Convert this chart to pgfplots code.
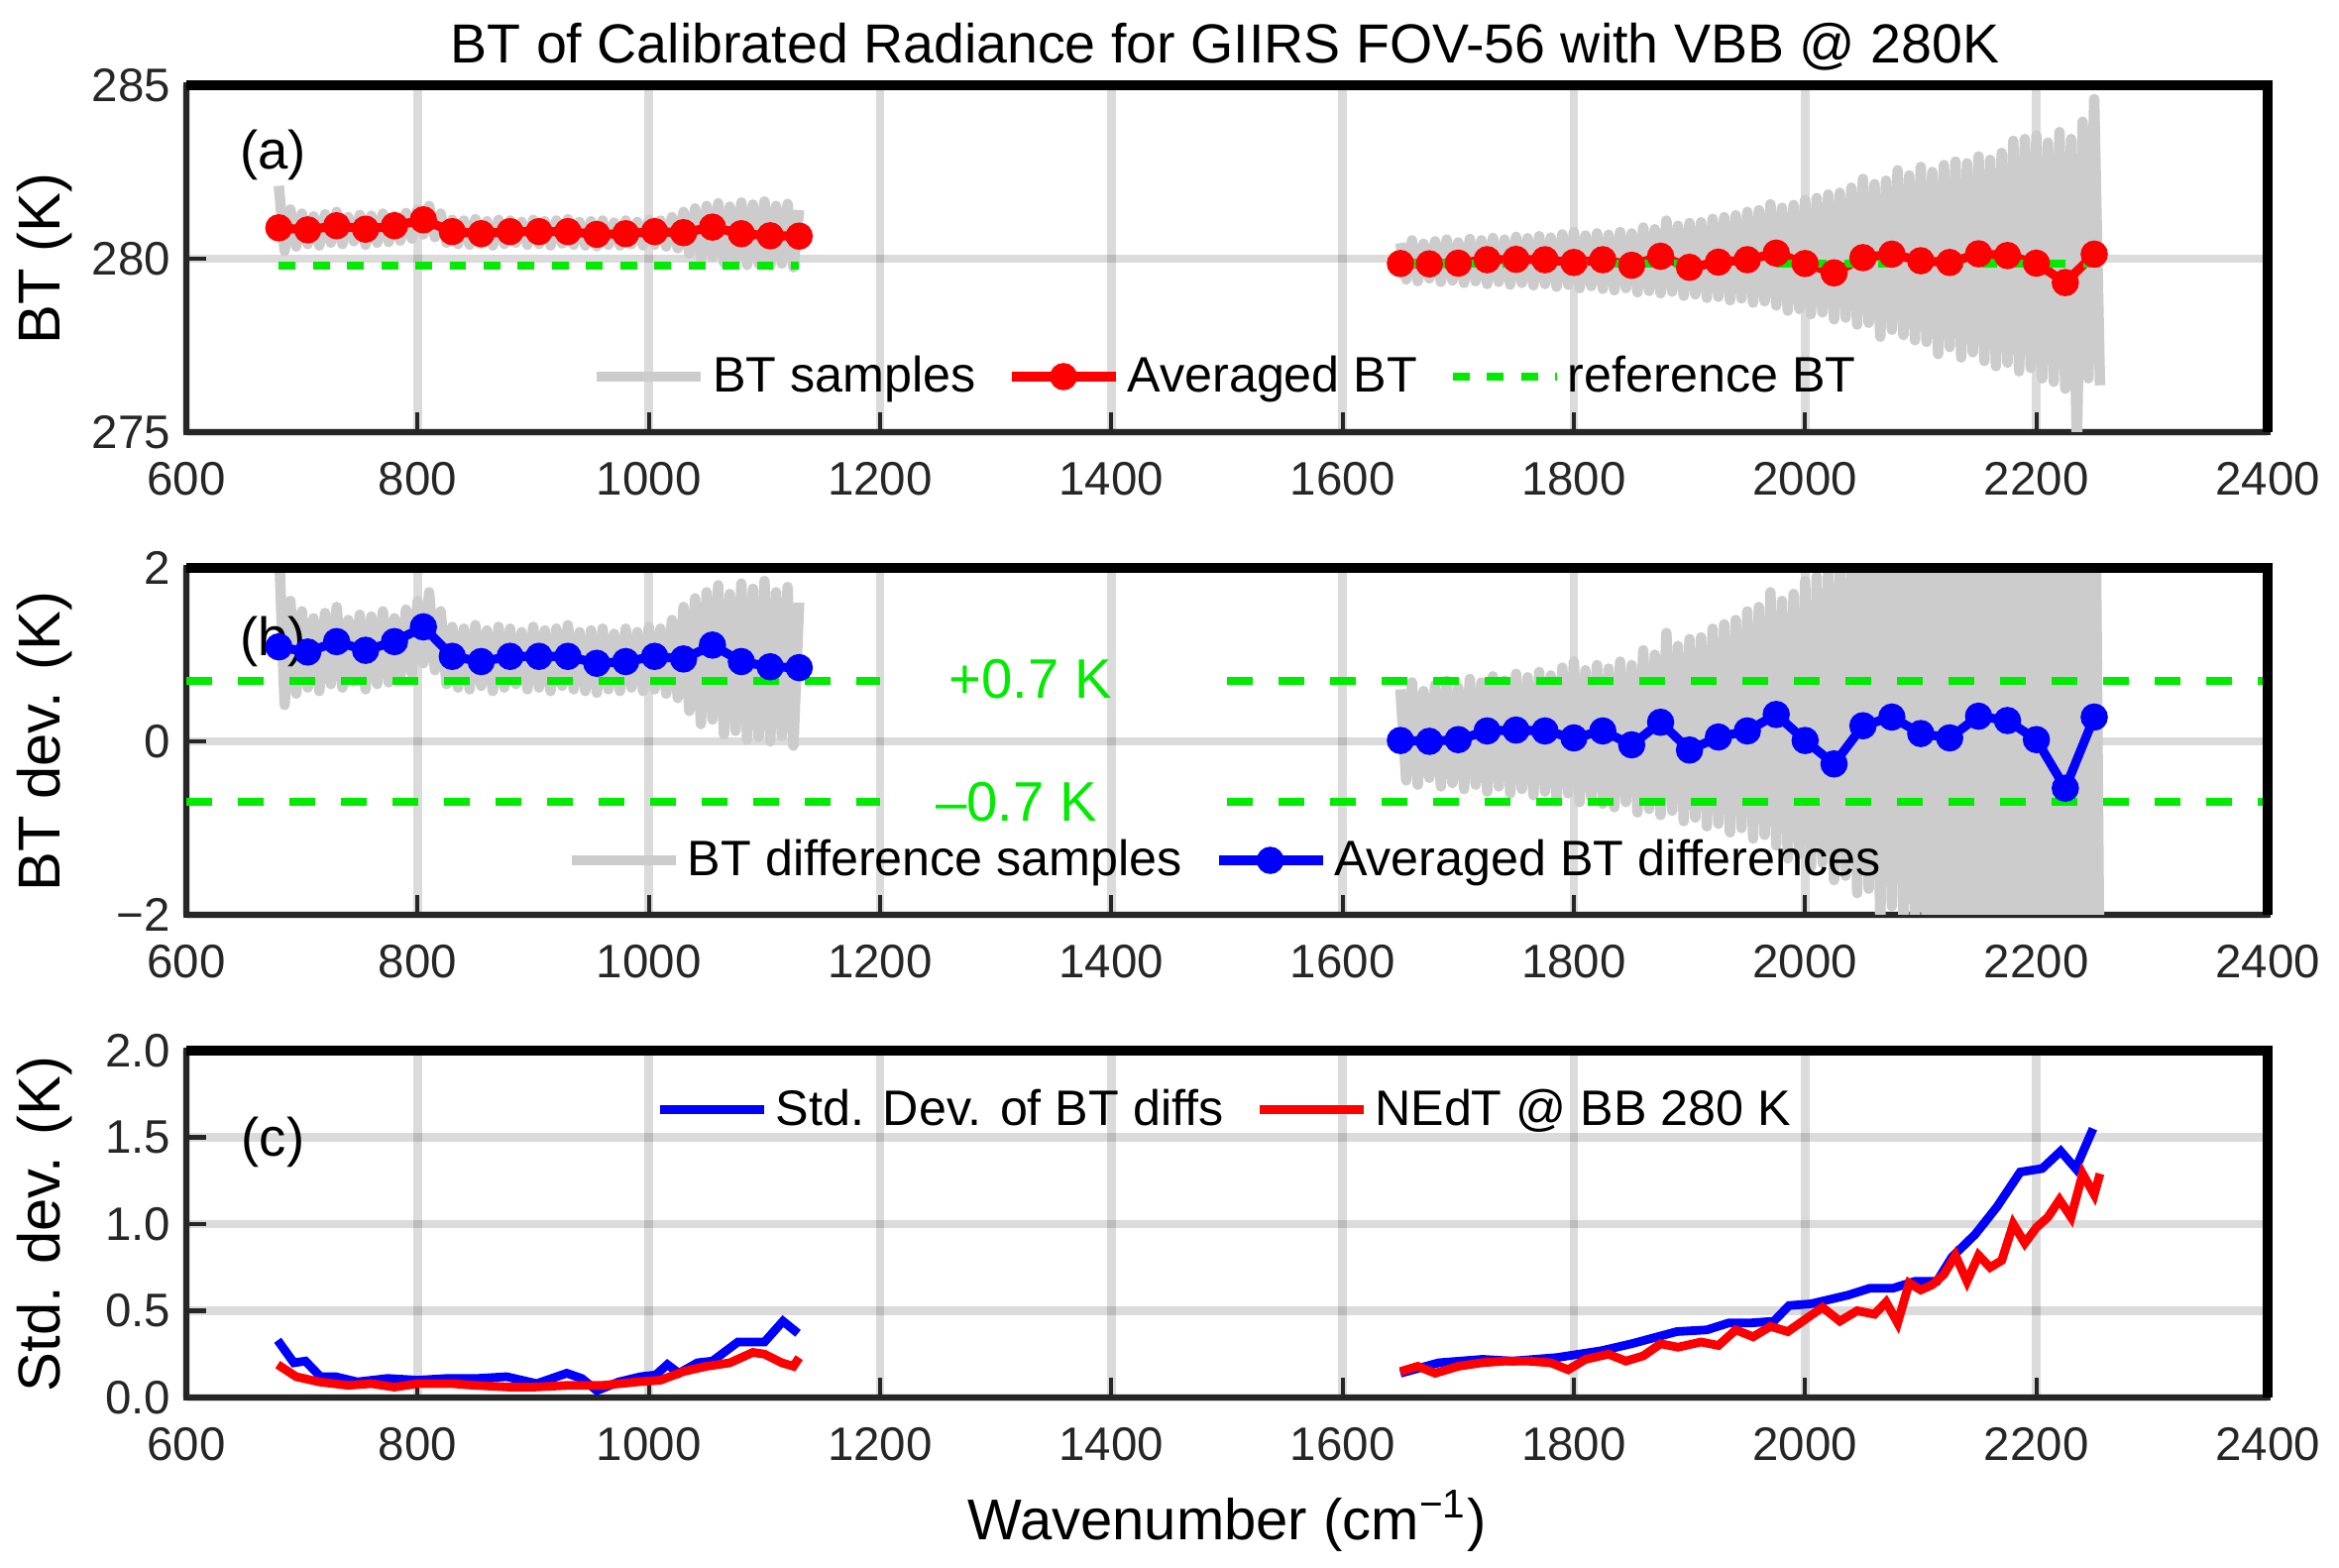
\documentclass[border=0pt]{standalone}
\usepackage{fontspec}
\setmainfont{Liberation Sans}
\usepackage{pgfplots}
\pgfplotsset{compat=1.18}
\usepackage{pgfplotstable}
\definecolor{sgray}{RGB}{204,204,204}
\definecolor{ared}{RGB}{255,0,0}
\definecolor{ablue}{RGB}{0,0,255}
\definecolor{agreen}{RGB}{0,235,0}
\definecolor{axc}{RGB}{38,38,38}

\pgfplotstableread{
x y
680 282.10
685 280.22
690 281.42
695 280.35
700 281.30
705 280.42
710 281.22
715 280.38
720 281.28
725 280.46
730 281.35
735 280.42
740 281.20
745 280.50
750 281.26
755 280.40
760 281.24
765 280.46
770 281.30
775 280.48
780 281.22
785 280.52
790 281.32
795 280.58
800 281.42
805 280.70
810 281.52
815 280.62
820 281.30
825 280.46
830 281.12
835 280.42
840 281.10
845 280.40
850 281.14
855 280.44
860 281.08
865 280.38
870 281.12
875 280.42
880 281.10
885 280.46
890 281.06
895 280.40
900 281.12
905 280.42
910 281.08
915 280.38
920 281.10
925 280.44
930 281.14
935 280.40
940 281.06
945 280.38
950 281.08
955 280.36
960 281.10
965 280.40
970 281.04
975 280.38
980 281.10
985 280.42
990 281.06
995 280.38
1000 281.12
1005 280.40
1010 281.10
1015 280.35
1020 281.20
1025 280.30
1030 281.35
1035 280.15
1040 281.45
1045 280.00
1050 281.52
1055 280.05
1060 281.60
1065 279.88
1070 281.50
1075 279.92
1080 281.62
1085 279.82
1090 281.56
1095 279.85
1100 281.65
1105 279.80
1110 281.52
1115 279.86
1120 281.58
1125 279.75
1130 281.40
nan nan
1650 280.45
1655 279.40
1660 280.53
1665 279.35
1670 280.43
1675 279.43
1680 280.50
1685 279.33
1690 280.55
1695 279.37
1700 280.47
1705 279.30
1710 280.57
1715 279.35
1720 280.53
1725 279.27
1730 280.60
1735 279.33
1740 280.55
1745 279.25
1750 280.63
1755 279.30
1760 280.59
1765 279.23
1770 280.65
1775 279.27
1780 280.61
1785 279.19
1790 280.70
1795 279.25
1800 280.77
1805 279.15
1810 280.67
1815 279.21
1820 280.73
1825 279.13
1830 280.69
1835 279.09
1840 280.77
1845 279.15
1850 280.73
1855 279.03
1860 280.90
1865 279.07
1870 280.85
1875 279.00
1880 281.10
1885 279.05
1890 280.95
1895 278.93
1900 281.03
1905 278.97
1910 281.05
1915 278.87
1920 281.15
1925 278.90
1930 281.20
1935 278.80
1940 281.25
1945 278.85
1950 281.35
1955 278.73
1960 281.40
1965 278.77
1970 281.57
1975 278.65
1980 281.47
1985 278.50
1990 281.55
1995 278.55
2000 281.70
2005 278.40
2010 281.75
2015 278.45
2020 281.85
2025 278.25
2030 281.90
2035 278.30
2040 282.05
2045 278.10
2050 282.30
2055 278.15
2060 282.15
2065 277.75
2070 282.25
2075 277.95
2080 282.55
2085 277.80
2090 282.40
2095 277.65
2100 282.65
2105 277.60
2110 282.50
2115 277.25
2120 282.70
2125 277.45
2130 282.80
2135 277.15
2140 282.75
2145 277.30
2150 282.95
2155 277.05
2160 282.85
2165 276.90
2170 283.05
2175 277.00
2180 283.40
2185 276.75
2190 283.45
2195 276.85
2200 283.55
2205 276.55
2210 283.35
2215 276.45
2220 283.65
2225 276.25
2230 283.45
2235 274.65
2240 283.95
2245 276.55
2250 284.60
2255 276.35
}\btsamples

\pgfplotstableread{
x y
680 2.30
685 0.42
690 1.62
695 0.55
700 1.50
705 0.62
710 1.42
715 0.58
720 1.48
725 0.66
730 1.55
735 0.62
740 1.40
745 0.70
750 1.46
755 0.60
760 1.44
765 0.66
770 1.50
775 0.68
780 1.42
785 0.72
790 1.52
795 0.78
800 1.62
805 0.90
810 1.72
815 0.82
820 1.50
825 0.66
830 1.32
835 0.62
840 1.30
845 0.60
850 1.34
855 0.64
860 1.28
865 0.58
870 1.32
875 0.62
880 1.30
885 0.66
890 1.26
895 0.60
900 1.32
905 0.62
910 1.28
915 0.58
920 1.30
925 0.64
930 1.34
935 0.60
940 1.26
945 0.58
950 1.28
955 0.56
960 1.30
965 0.60
970 1.24
975 0.58
980 1.30
985 0.62
990 1.26
995 0.58
1000 1.32
1005 0.60
1010 1.30
1015 0.55
1020 1.40
1025 0.50
1030 1.55
1035 0.35
1040 1.65
1045 0.20
1050 1.72
1055 0.25
1060 1.80
1065 0.08
1070 1.70
1075 0.12
1080 1.82
1085 0.02
1090 1.76
1095 0.05
1100 1.85
1105 0.00
1110 1.72
1115 0.06
1120 1.78
1125 -0.05
1130 1.60
nan nan
1650 0.60
1655 -0.45
1660 0.68
1665 -0.50
1670 0.58
1675 -0.42
1680 0.65
1685 -0.52
1690 0.70
1695 -0.48
1700 0.62
1705 -0.55
1710 0.72
1715 -0.50
1720 0.68
1725 -0.58
1730 0.75
1735 -0.52
1740 0.70
1745 -0.60
1750 0.78
1755 -0.55
1760 0.74
1765 -0.62
1770 0.80
1775 -0.58
1780 0.76
1785 -0.66
1790 0.85
1795 -0.60
1800 0.92
1805 -0.70
1810 0.82
1815 -0.64
1820 0.88
1825 -0.72
1830 0.84
1835 -0.76
1840 0.92
1845 -0.70
1850 0.88
1855 -0.82
1860 1.05
1865 -0.78
1870 1.00
1875 -0.85
1880 1.25
1885 -0.80
1890 1.10
1895 -0.92
1900 1.18
1905 -0.88
1910 1.20
1915 -0.98
1920 1.30
1925 -0.95
1930 1.35
1935 -1.05
1940 1.40
1945 -1.00
1950 1.50
1955 -1.12
1960 1.55
1965 -1.08
1970 1.72
1975 -1.20
1980 1.62
1985 -1.35
1990 1.70
1995 -1.30
2000 1.85
2005 -1.45
2010 1.90
2015 -1.40
2020 2.00
2025 -1.60
2030 2.05
2035 -1.55
2040 2.20
2045 -1.75
2050 2.45
2055 -1.70
2060 2.30
2065 -2.10
2070 2.40
2075 -1.90
2080 2.70
2085 -2.05
2090 2.55
2095 -2.20
2100 2.80
2105 -2.25
2110 2.65
2115 -2.60
2120 2.85
2125 -2.40
2130 2.95
2135 -2.70
2140 2.90
2145 -2.55
2150 3.10
2155 -2.80
2160 3.00
2165 -2.95
2170 3.20
2175 -2.85
2180 3.55
2185 -3.10
2190 3.60
2195 -3.00
2200 3.70
2205 -3.30
2210 3.50
2215 -3.40
2220 3.80
2225 -3.60
2230 3.60
2235 -5.20
2240 4.10
2245 -3.30
2250 4.75
2255 -3.50
}\btdiff

\pgfplotstableread{
x bt dev
680 280.89 1.09
705 280.83 1.03
730 280.95 1.15
755 280.85 1.05
780 280.95 1.15
805 281.12 1.32
830 280.78 0.98
855 280.72 0.92
880 280.78 0.98
905 280.78 0.98
930 280.78 0.98
955 280.70 0.90
980 280.72 0.92
1005 280.78 0.98
1030 280.75 0.95
1055 280.91 1.11
1080 280.72 0.92
1105 280.66 0.86
1130 280.65 0.85
nan nan nan
1650 279.86 0.01
1675 279.85 0.00
1700 279.87 0.02
1725 279.97 0.12
1750 279.98 0.13
1775 279.97 0.12
1800 279.89 0.04
1825 279.97 0.12
1850 279.81 -0.04
1875 280.07 0.22
1900 279.75 -0.10
1925 279.90 0.05
1950 279.97 0.12
1975 280.16 0.31
2000 279.86 0.01
2025 279.59 -0.26
2050 280.03 0.18
2075 280.13 0.28
2100 279.94 0.09
2125 279.89 0.04
2150 280.14 0.29
2175 280.09 0.24
2200 279.87 0.02
2225 279.31 -0.54
2250 280.13 0.28
}\avgdata

\pgfplotstableread{
x y
679 0.33
693 0.20
703 0.21
716 0.12
729 0.12
748 0.09
761 0.10
774 0.11
800 0.10
826 0.11
852 0.11
877 0.12
903 0.08
929 0.14
942 0.11
955 0.04
974 0.09
993 0.12
1006 0.13
1016 0.19
1026 0.14
1042 0.20
1055 0.21
1077 0.32
1100 0.32
1116 0.44
1129 0.37
nan nan
1650 0.14
1683 0.20
1721 0.22
1747 0.21
1785 0.23
1824 0.27
1850 0.31
1889 0.38
1915 0.39
1934 0.43
1953 0.43
1973 0.44
1986 0.53
2005 0.54
2037 0.59
2056 0.63
2076 0.63
2095 0.67
2114 0.67
2127 0.81
2147 0.94
2166 1.10
2186 1.30
2205 1.32
2221 1.42
2234 1.32
2249 1.55
}\stdblue

\pgfplotstableread{
x y
679 0.19
695 0.12
715 0.09
740 0.07
760 0.08
780 0.06
800 0.08
830 0.08
850 0.07
880 0.06
900 0.06
930 0.07
960 0.07
990 0.09
1010 0.10
1030 0.15
1050 0.18
1070 0.20
1090 0.26
1100 0.25
1115 0.20
1125 0.18
1130 0.23
nan nan
1650 0.15
1665 0.18
1680 0.14
1700 0.18
1720 0.20
1740 0.21
1760 0.21
1780 0.20
1795 0.16
1810 0.22
1830 0.25
1845 0.21
1860 0.24
1875 0.31
1890 0.29
1910 0.32
1925 0.30
1940 0.39
1955 0.35
1970 0.41
1985 0.38
2000 0.45
2015 0.52
2030 0.44
2045 0.50
2060 0.48
2070 0.55
2080 0.43
2090 0.66
2100 0.62
2110 0.65
2120 0.71
2130 0.82
2140 0.67
2150 0.82
2160 0.75
2170 0.79
2180 1.00
2190 0.89
2200 0.98
2210 1.04
2220 1.14
2230 1.04
2240 1.29
2250 1.17
2255 1.29
}\nedtred

\pgfplotsset{
 gstyle/.style={
  scale only axis, width=21cm, height=3.5cm,
  xmin=600, xmax=2400, xtick={600,800,...,2400},
  tick pos=left, tick align=inside, major tick length=0.2cm,
  every tick/.style={axc, line width=1.2pt},
  axis line style={axc, line width=1.5pt},
  grid=major, major grid style={black, opacity=0.14, line width=2.4pt},
  ticklabel style={font=\fontsize{13.5}{15}\selectfont, text=axc},
  /pgf/number format/assume math mode=true,
  /pgf/number format/1000 sep={},
  xticklabel style={yshift=-5pt},
  yticklabel style={xshift=-1pt},
  legend style={draw=none, fill=none, font=\fontsize{14.3}{16}\selectfont,
    legend columns=-1, inner sep=0pt,
    /tikz/every even column/.append style={column sep=0.25cm}},
  legend image code/.code={\draw[mark repeat=2,mark phase=2,#1] plot coordinates {(0cm,0cm) (0.52cm,0cm) (1.05cm,0cm)};},
  every axis y label/.style={at={(axis description cs:-0.068,0.5)}, rotate=90, anchor=center, font=\fontsize{17}{19}\selectfont},
  unbounded coords=jump,
  after end axis/.code={\draw[black, line width=2.6pt] (rel axis cs:0,1) -- (rel axis cs:1,1) -- (rel axis cs:1,0);},
 },
 sampstyle/.style={sgray, line width=3pt, line join=round},
}

\begin{document}
\begin{tikzpicture}
\path[use as bounding box] (0,0) rectangle (23.6cm,15.82cm);

% Panel (a)
\begin{axis}[gstyle, at={(1.88cm,11.46cm)}, anchor=south west,
  ymin=275, ymax=285, ytick={275,280,285},
  ylabel={BT (K)},
  legend style={at={(0.5,0.16)}, anchor=center}]
\addplot[sampstyle] table[x=x,y=y] {\btsamples};
\addlegendentry{BT samples}
\addplot[ared, line width=2.6pt, mark=*, mark size=2.6pt] table[x=x,y=bt] {\avgdata};
\addlegendentry{Averaged BT}
\addplot[agreen, line width=2.2pt, dash pattern=on 4.8pt off 5pt] coordinates {(680,279.80) (1130,279.80) (nan,nan) (1650,279.85) (2255,279.85)};
\addlegendentry{reference BT}
\node[font=\fontsize{15.5}{17}\selectfont] at (axis cs:675,283.0) {(a)};
\end{axis}

% Panel (b)
\begin{axis}[gstyle, at={(1.88cm,6.59cm)}, anchor=south west,
  ymin=-2, ymax=2, ytick={-2,0,2}, yticklabels={−2,0,2},
  ylabel={BT dev. (K)},
  legend style={at={(0.5,0.157)}, anchor=center}]
\addplot[sampstyle] table[x=x,y=y] {\btdiff};
\addlegendentry{BT difference samples}
\addplot[ablue, line width=2.6pt, mark=*, mark size=2.6pt] table[x=x,y=dev] {\avgdata};
\addlegendentry{Averaged BT differences}
\addplot[agreen, line width=2.3pt, dash pattern=on 7.4pt off 7.4pt, forget plot] coordinates {(600,0.7) (1200,0.7) (nan,nan) (1500,0.7) (2400,0.7)};
\addplot[agreen, line width=2.3pt, dash pattern=on 7.4pt off 7.4pt, forget plot] coordinates {(600,-0.7) (1200,-0.7) (nan,nan) (1500,-0.7) (2400,-0.7)};
\node[font=\fontsize{16}{18}\selectfont, text=agreen] at (axis cs:1330,0.72) {+0.7 K};
\node[font=\fontsize{16}{18}\selectfont, text=agreen] at (axis cs:1318,-0.70) {–0.7 K};
\node[font=\fontsize{15.5}{17}\selectfont] at (axis cs:675,1.15) {(b)};
\end{axis}

% Panel (c)
\begin{axis}[gstyle, at={(1.88cm,1.72cm)}, anchor=south west,
  ymin=0, ymax=2, ytick={0,0.5,1,1.5,2}, yticklabels={0.0,0.5,1.0,1.5,2.0},
  ylabel={Std. dev. (K)},
  xlabel={Wavenumber (cm\textsuperscript{−1})},
  every axis x label/.style={at={(axis description cs:0.5,-0.355)}, anchor=center, font=\fontsize{16.5}{18}\selectfont},
  legend style={at={(0.5,0.83)}, anchor=center}]
\addplot[ablue, line width=2.5pt] table[x=x,y=y] {\stdblue};
\addlegendentry{Std. Dev. of BT diffs}
\addplot[ared, line width=2.5pt] table[x=x,y=y] {\nedtred};
\addlegendentry{NEdT @ BB 280 K}
\node[font=\fontsize{15.5}{17}\selectfont] at (axis cs:675,1.47) {(c)};
\end{axis}

\node[font=\fontsize{15.8}{18}\selectfont] at (12.36cm,15.35cm) {BT of Calibrated Radiance for GIIRS FOV-56 with VBB @ 280K};
\end{tikzpicture}
\end{document}
